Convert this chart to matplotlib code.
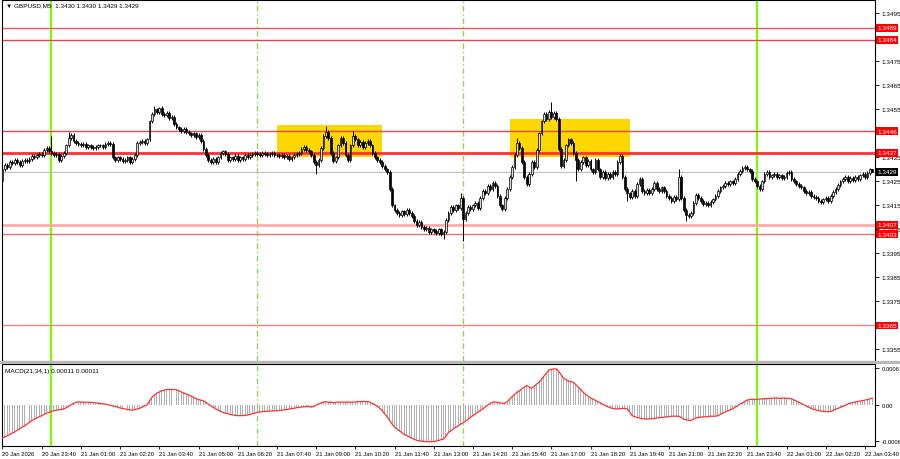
import matplotlib
matplotlib.use("Agg")
import matplotlib.pyplot as plt
import matplotlib.transforms as mtransforms
from matplotlib.patches import Rectangle
import numpy as np
import pandas as pd

plt.rcParams["font.family"] = ["Liberation Sans", "DejaVu Sans"]

SYMBOL = "GBPUSD,M5"
START = "2026-01-20 22:20"
BASE = 1.3400

# closes in pips above 1.3400, one per M5 bar
CLOSE_PIPS = [
    30, 32, 31, 33, 32.5, 34, 33, 32, 33.5, 34,
    33.5, 34.5, 35.5, 35, 36, 36.5, 36, 38, 39, 37.5,
    37, 36, 36.5, 34, 35.5, 37, 40, 43, 44.5, 42,
    41, 40.5, 40, 40.5, 39.5, 40, 39.5, 39, 39.5, 40,
    40, 39.5, 40.5, 41, 40.5, 35, 34, 35, 34.5, 33.5,
    34, 35, 33, 34.5, 36, 41, 41.5, 42, 41, 42.5,
    50, 53, 55, 54, 55.5, 53, 52.5, 53.5, 51.5, 52,
    49, 47.5, 47, 46, 47, 45.5, 45, 44.5, 45, 43.5,
    44.5, 42, 38.5, 36, 34, 33, 34.5, 33, 35, 37,
    37.5, 36.5, 34, 35, 34.5, 35.5, 34, 35, 34.5, 36,
    35, 36, 36.5, 37, 36.5, 36, 37, 36.5, 36, 36.5,
    37, 36, 36, 35.5, 36, 35, 35.5, 34.5, 35, 36,
    36.5, 37, 38.5, 39.5, 38, 37.5, 36, 33, 32, 34,
    39, 44, 45.5, 43, 37, 33.5, 35, 40, 43, 41,
    36, 34, 40, 44, 42.5, 40, 41.5, 39.5, 41, 42,
    40, 37, 35, 34, 33, 31.5, 30, 29, 22, 15,
    13, 12, 11, 12.5, 11.5, 13, 12, 10.5, 8.5, 7,
    8, 6, 5, 5.5, 4, 5, 4.5, 3.5, 5, 3,
    4, 9, 12, 14.5, 13, 15, 14, 18, 9.5, 12,
    14.5, 13.5, 15, 16, 14, 18, 21, 20, 23, 22,
    24.5, 23, 19, 15, 13.5, 18, 22, 27, 31, 36,
    41, 39, 33, 27, 24, 28, 33, 31, 38, 45,
    50, 53, 51, 54, 52, 53.5, 51, 38.5, 31.5, 34,
    40, 42.5, 41, 37, 34, 30, 33, 35, 32, 33.5,
    30, 29, 34, 30, 27, 29, 26.5, 28, 27, 29,
    28, 33, 35.5, 27, 22, 20, 18.5, 21, 19, 24,
    26, 21, 20, 21.5, 20, 22, 24.5, 22, 21, 22.5,
    21, 19, 18, 17, 18.5, 17.5, 27, 18, 13, 11,
    10.5, 12, 16, 19.5, 18, 17, 15.5, 16, 15, 16.5,
    17.5, 19, 21, 22.5, 23, 24.5, 24, 25, 24.5, 26,
    28, 29.5, 30.5, 31, 30, 29.5, 26, 25, 23, 22,
    25, 28, 29, 27, 27.5, 28, 27, 27.5, 26.5, 27,
    28.5, 29, 26, 25, 24, 23, 22.5, 21, 20, 20.5,
    19, 18.5, 18, 17, 16.5, 17.5, 18, 17, 19, 20.5,
    22, 23.5, 25, 26, 27, 25, 26.5, 25.5, 27, 26,
    27.5, 28, 27, 28.5, 30, 29,
]
OPEN_FIRST = 25.0
WICK = 0.8
HIGH_SPIKES = {0: 32.5, 20: 44, 27: 45.5, 62: 56.5, 64: 56, 132: 48, 143: 46,
               187: 20, 210: 43, 224: 58, 276: 30, 355: 30}
LOW_SPIKES = {0: 24.5, 128: 28, 180: 1, 188: 0, 234: 25, 255: 17, 279: 8.5, 355: 29}

# MACD(21,34,1) main, in units of 0.00001
MACD_E5 = [
    -55, -53, -51, -49, -47, -45, -42, -40, -37, -35,
    -32, -29, -26, -24, -22, -20, -18, -16, -14, -13,
    -11, -10, -9, -8.5, -8, -7, -5, -3, 0, 2,
    4, 4.5, 4.5, 4, 4, 4, 4, 3.5, 3, 2.5,
    2, 1.5, 1, 0, -1, -2, -3, -4, -5.5, -6,
    -7, -8, -8.5, -9, -8, -7, -6, -4, -2, 0,
    6, 12, 16, 19, 21, 23, 24, 25, 25, 25,
    25, 24.5, 23, 21, 19, 17.7, 16, 14, 12, 10,
    8.5, 7.5, 6.5, 4, 1, -2, -4.4, -7, -9, -11,
    -12.6, -14, -15, -16, -17, -17.5, -18, -18, -18, -17.5,
    -17, -16, -15, -14, -12.6, -12, -11.5, -11, -11, -10.5,
    -10.5, -10, -10, -9.5, -9, -8.5, -8, -7, -6.5, -6,
    -5, -4.4, -4, -3.5, -3, -3, -4, -3, -1, 1,
    3, 4.5, 5, 4, 4.5, 3, 4, 4.5, 4, 4.5,
    4, 4.5, 4, 4, 4.5, 5, 5, 5.5, 5, 5,
    4, 2, 0, -3, -6, -10, -15, -20, -26, -32,
    -37, -40, -43, -46, -49, -51, -53, -55, -57, -58.5,
    -59.5, -60, -60.5, -61, -61, -61, -60.5, -60, -59, -57.5,
    -56.7, -52, -45.7, -43, -40, -37, -35, -32, -30, -27,
    -24, -21, -18, -15, -12.6, -10, -7, -4, -1, 2,
    4, 4.5, 4, 3, 2.5, 2.5, 5, 9, 13, 17,
    20.5, 23, 26, 29, 31.4, 29, 27, 30, 34, 37,
    42, 47, 52, 57, 58, 59, 59, 55, 49, 43.6,
    41, 39, 38, 37, 33, 29, 25, 20.5, 17, 14,
    11, 9.4, 7, 5, 3, 0.5, -1.6, -3, -5, -6,
    -7, -7, -6.5, -6, -6.5, -7, -12, -18, -20, -21,
    -22, -23, -23.5, -23.6, -23.5, -23, -22.5, -22, -21.5, -21,
    -20.5, -20, -19.5, -19, -19, -19, -19, -21, -24, -25,
    -25.5, -26, -24, -22, -21, -20.5, -20, -20, -19.5, -19,
    -19, -19, -18, -16, -14, -12, -10, -8.5, -7, -4,
    -2, 1, 3, 5.5, 7.8, 8.5, 9, 8.5, 9, 9.4,
    9.5, 10, 10, 10.5, 10.5, 11, 11, 10.5, 10.5, 11,
    10.5, 10.5, 9.5, 8, 6, 4, 2, 0, -2, -4,
    -6, -7.5, -8.8, -9.5, -10.5, -11, -11.5, -11.6, -11, -9.5,
    -7.5, -6, -4.4, -2.5, -1, 1, 2.5, 3.5, 4.5, 5,
    6, 6.6, 7.5, 8.5, 9.5, 11,
]

LEVELS = [1.3489, 1.3484, 1.3446, 1.3437, 1.3407, 1.3403, 1.3365]
LEVEL_COLORS = ["#f05a5a", "#e04848", "#e84848", "#ff3030", "#ffaaaa", "#f07070", "#f08080"]
LEVEL_WIDTHS = [1.0, 1.0, 1.0, 2.0, 2.0, 1.0, 1.0]
CURRENT = 1.3429
PRICE_TICKS = [1.3495, 1.3475, 1.3465, 1.3455, 1.3435, 1.3425, 1.3415, 1.3405,
               1.3395, 1.3385, 1.3375, 1.3355]
BOXES = [("2026-01-21 07:40", "2026-01-21 11:15", 1.34350, 1.34485),
         ("2026-01-21 15:35", "2026-01-21 19:40", 1.34350, 1.34510)]
DAY_LINES = ["2026-01-21 00:00", "2026-01-22 00:00"]
SESSION_LINES = ["2026-01-21 07:00", "2026-01-21 14:00"]

FS = 4.6
FS_SMALL = 4.2

n = len(CLOSE_PIPS)
times = pd.date_range(START, periods=n, freq="5min")
idx = np.arange(n)


def bar_of(t):
    return float(times.get_loc(pd.Timestamp(t)))


close = BASE + np.array(CLOSE_PIPS, dtype=float) / 1e4
open_ = np.r_[BASE + OPEN_FIRST / 1e4, close[:-1]]
high = np.maximum(open_, close) + WICK / 1e4
low = np.minimum(open_, close) - WICK / 1e4
for k, v in HIGH_SPIKES.items():
    high[k] = BASE + v / 1e4
for k, v in LOW_SPIKES.items():
    low[k] = BASE + v / 1e4
macd = np.array(MACD_E5, dtype=float) * 1e-5

W, H = 900, 460
fig = plt.figure(figsize=(W / 100, H / 100), dpi=100, facecolor="white")
ax = fig.add_axes([2 / W, (H - 362) / H, 873 / W, 361 / H])
axm = fig.add_axes([2 / W, (H - 447) / H, 873 / W, 82 / H])
fig.patches.append(Rectangle((0, (H - 365) / H), 1, 3 / H, transform=fig.transFigure,
                             facecolor="#b8b8b8", edgecolor="none"))

xlim = (-0.2, 356.1)
for a in (ax, axm):
    a.set_xlim(*xlim)
    a.set_facecolor("white")
    for s in a.spines.values():
        s.set_color("black")
        s.set_linewidth(0.8)
    for t in DAY_LINES:
        a.axvline(bar_of(t), color="#7cfc00", lw=1.6, zorder=1)
    for t in SESSION_LINES:
        a.axvline(bar_of(t), color="#8cdc50", lw=1.0, ls=(0, (4, 2, 1, 2)), zorder=1)

# main chart
ax.set_ylim(1.33502, 1.35006)
for t0, t1, p0, p1 in BOXES:
    b0, b1 = bar_of(t0), bar_of(t1)
    ax.add_patch(Rectangle((b0, p0), b1 - b0, p1 - p0, facecolor="#ffd700",
                           edgecolor="none", zorder=0.5))
for lv, c, lw in zip(LEVELS, LEVEL_COLORS, LEVEL_WIDTHS):
    ax.axhline(lv, color=c, lw=lw, zorder=2)
ax.axhline(CURRENT, color="#c0c0c0", lw=0.8, zorder=1.5)

ax.vlines(idx, low, high, color="black", lw=0.7, zorder=3)
up = close >= open_
bot = np.minimum(open_, close)
body = np.maximum(np.abs(close - open_), 0.000015)
ax.bar(idx[up], body[up], bottom=bot[up], width=0.72, color="#d8d8d8",
       edgecolor="black", lw=0.5, zorder=4)
ax.bar(idx[~up], body[~up], bottom=bot[~up], width=0.72, color="black",
       edgecolor="black", lw=0.5, zorder=4)

ax.yaxis.tick_right()
ax.set_yticks(PRICE_TICKS)
ax.yaxis.set_major_formatter(plt.FuncFormatter(lambda v, p: f"{v:.4f}"))
ax.tick_params(axis="y", direction="out", length=3, width=0.6, pad=2, labelsize=FS)
ax.set_xticks([])

tr = mtransforms.blended_transform_factory(ax.transAxes, ax.transData)
for lv in LEVELS:
    ax.text(1.0025, lv, f"{lv:.4f}", transform=tr, ha="left", va="center", fontsize=FS,
            color="white", clip_on=False, zorder=6,
            bbox=dict(boxstyle="square,pad=0.22", facecolor="#ff0000", edgecolor="none"))
ax.text(1.0025, CURRENT, f"{CURRENT:.4f}", transform=tr, ha="left", va="center", fontsize=FS,
        color="white", clip_on=False, zorder=6,
        bbox=dict(boxstyle="square,pad=0.22", facecolor="black", edgecolor="none"))

ax.text(4 / 873, 0.993, f"\u25bc {SYMBOL}  {open_[-1]:.4f} {high[-1]:.4f} {low[-1]:.4f} {close[-1]:.4f}",
        transform=ax.transAxes, ha="left", va="top", fontsize=FS, color="black", zorder=7)

# MACD panel
axm.set_ylim(-0.00068, 0.00067)
axm.bar(idx, macd, width=0.4, color="#b0b0b0", zorder=2)
axm.plot(idx, macd, color="#ff3030", lw=0.9, zorder=3)
axm.yaxis.tick_right()
axm.set_yticks([0.0006, 0.0, -0.0006])
axm.set_yticklabels(["0.0006", "0.00", "-0.0006"])
axm.tick_params(axis="y", direction="out", length=3, width=0.6, pad=1.5, labelsize=FS_SMALL)
axm.text(0.003, 0.95, f"MACD(21,34,1) {macd[-1]:.5f} {macd[-1]:.5f}",
         transform=axm.transAxes, ha="left", va="top", fontsize=FS, color="black")

tick_bars = idx[::16]
labels = [times[0].strftime("%d %b %Y")] + [times[i].strftime("%d %b %H:%M") for i in tick_bars[1:]]
axm.set_xticks(tick_bars)
axm.set_xticklabels(labels, ha="left")
axm.tick_params(axis="x", direction="out", length=2, width=0.6, pad=1.5, labelsize=FS_SMALL)

fig.savefig("out.png", dpi=100, facecolor="white")
